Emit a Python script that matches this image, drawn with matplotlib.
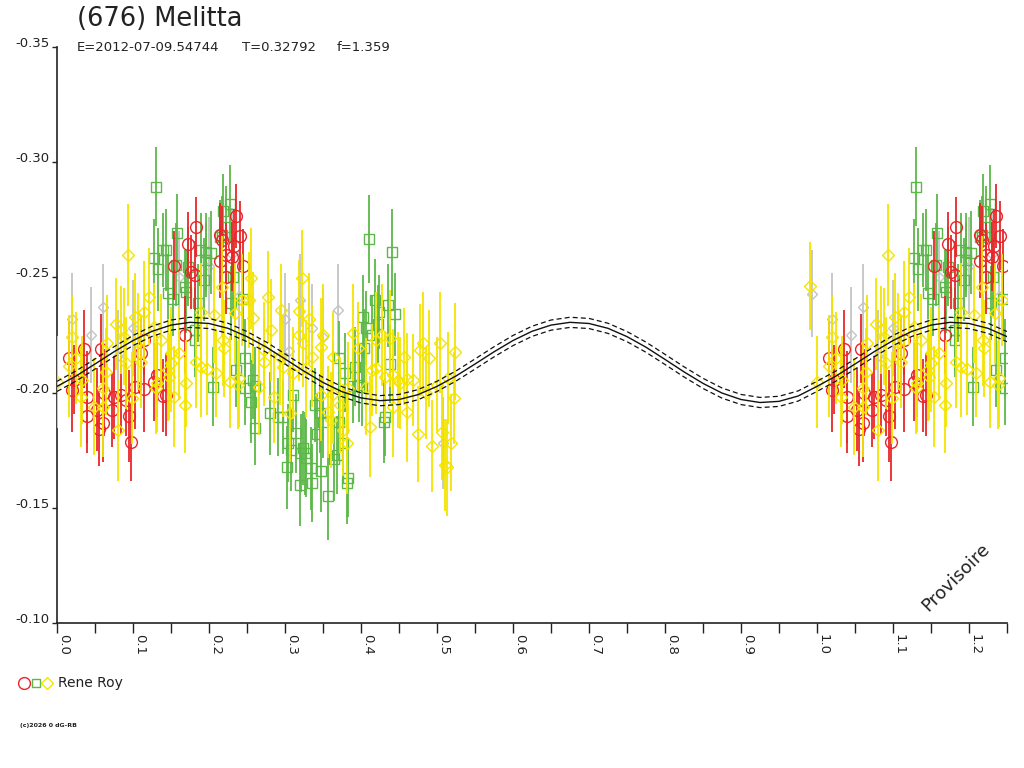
import numpy as np
import matplotlib as mpl
import matplotlib.pyplot as plt

mpl.use("agg")

# ---- data (phase, magnitude, error) ----
red_phase = [0.016, 0.020, 0.022, 0.036, 0.040, 0.040, 0.053, 0.055, 0.058, 0.060,
             0.062, 0.073, 0.075, 0.084, 0.091, 0.095, 0.098, 0.102, 0.110, 0.114,
             0.115, 0.128, 0.132, 0.140, 0.143, 0.154, 0.168, 0.173, 0.176, 0.181,
             0.183, 0.214, 0.214, 0.217, 0.223, 0.223, 0.230, 0.233, 0.236, 0.241,
             0.245]
red_mag = [-0.2150, -0.2010, -0.2055, -0.2190, -0.1980, -0.1900, -0.1925, -0.1840, -0.2190, -0.1870,
           -0.2000, -0.1925, -0.1980, -0.1990, -0.1970, -0.1900, -0.1787, -0.2024, -0.2170, -0.2017,
           -0.2228, -0.2047, -0.2076, -0.1987, -0.1990, -0.2550, -0.2250, -0.2645, -0.2525, -0.2510,
           -0.2717, -0.2684, -0.2570, -0.2662, -0.2597, -0.2503, -0.2590, -0.2636, -0.2767, -0.2680,
           -0.2550]
red_err = [0.016, 0.018, 0.015, 0.017, 0.020, 0.016, 0.018, 0.016, 0.015, 0.017,
           0.019, 0.016, 0.018, 0.017, 0.016, 0.020, 0.017, 0.018, 0.016, 0.019,
           0.015, 0.017, 0.018, 0.016, 0.018, 0.015, 0.017, 0.014, 0.016, 0.015,
           0.013, 0.014, 0.016, 0.015, 0.014, 0.016, 0.015, 0.016, 0.014, 0.015,
           0.016]

green_phase = [0.127, 0.130, 0.133, 0.139, 0.143, 0.146, 0.152, 0.157, 0.158, 0.168,
               0.170, 0.172, 0.181, 0.181, 0.185, 0.190, 0.194, 0.196, 0.196, 0.202,
               0.205, 0.215, 0.217, 0.218, 0.223, 0.227, 0.229, 0.231, 0.236, 0.245,
               0.247, 0.247, 0.255, 0.258, 0.260, 0.261, 0.280, 0.291, 0.297, 0.303,
               0.304, 0.308, 0.310, 0.315, 0.320, 0.321, 0.324, 0.326, 0.328, 0.334,
               0.335, 0.340, 0.342, 0.346, 0.348, 0.350, 0.357, 0.365, 0.368, 0.371,
               0.371, 0.376, 0.379, 0.381, 0.383, 0.390, 0.392, 0.398, 0.401, 0.403,
               0.404, 0.407, 0.411, 0.414, 0.418, 0.423, 0.424, 0.430, 0.431, 0.436,
               0.438, 0.441, 0.445]
green_mag = [-0.2583, -0.2894, -0.2535, -0.2619, -0.2619, -0.2432, -0.2405, -0.2554, -0.2694, -0.2460,
             -0.2438, -0.2547, -0.2272, -0.2228, -0.2389, -0.2619, -0.2489, -0.2609, -0.2575, -0.2607,
             -0.2026, -0.2677, -0.2684, -0.2788, -0.2717, -0.2819, -0.2389, -0.2503, -0.2098, -0.2405,
             -0.2149, -0.2018, -0.1960, -0.2055, -0.1845, -0.2030, -0.1910, -0.1895, -0.1895, -0.1676,
             -0.1780, -0.1751, -0.1990, -0.1823, -0.1599, -0.1737, -0.1758, -0.1737, -0.1715, -0.1672,
             -0.1609, -0.1947, -0.1819, -0.1910, -0.1661, -0.1874, -0.1551, -0.1711, -0.1729, -0.2152,
             -0.1874, -0.1783, -0.2087, -0.1609, -0.1628, -0.2030, -0.2113, -0.2033, -0.2026, -0.2330,
             -0.2192, -0.2280, -0.2667, -0.2250, -0.2402, -0.2298, -0.2351, -0.1874, -0.1893, -0.2380,
             -0.2123, -0.2609, -0.2340]
green_err = [0.017, 0.017, 0.018, 0.016, 0.018, 0.017, 0.016, 0.018, 0.017, 0.016,
             0.018, 0.017, 0.018, 0.016, 0.017, 0.016, 0.018, 0.017, 0.016, 0.018,
             0.017, 0.016, 0.017, 0.016, 0.018, 0.017, 0.016, 0.017, 0.016, 0.018,
             0.017, 0.016, 0.018, 0.017, 0.016, 0.017, 0.018, 0.017, 0.016, 0.018,
             0.017, 0.018, 0.016, 0.017, 0.018, 0.017, 0.016, 0.018, 0.017, 0.018,
             0.017, 0.016, 0.018, 0.017, 0.018, 0.016, 0.019, 0.018, 0.017, 0.016,
             0.017, 0.018, 0.017, 0.018, 0.017, 0.016, 0.017, 0.016, 0.017, 0.018,
             0.017, 0.016, 0.019, 0.017, 0.018, 0.017, 0.016, 0.018, 0.017, 0.018,
             0.017, 0.019, 0.018]

yellow_phase = [0.000, 0.016, 0.020, 0.025, 0.031, 0.033, 0.049, 0.060, 0.060, 0.064,
                0.066, 0.077, 0.080, 0.084, 0.088, 0.091, 0.094, 0.099, 0.102, 0.106,
                0.110, 0.115, 0.121, 0.128, 0.130, 0.132, 0.137, 0.146, 0.148, 0.150,
                0.150, 0.154, 0.161, 0.168, 0.170, 0.183, 0.190, 0.190, 0.197, 0.207,
                0.209, 0.217, 0.218, 0.220, 0.227, 0.234, 0.238, 0.240, 0.244, 0.253,
                0.255, 0.258, 0.266, 0.273, 0.273, 0.277, 0.282, 0.286, 0.293, 0.295,
                0.297, 0.306, 0.310, 0.319, 0.319, 0.322, 0.324, 0.328, 0.332, 0.336,
                0.348, 0.348, 0.350, 0.357, 0.361, 0.363, 0.363, 0.372, 0.376, 0.381,
                0.383, 0.390, 0.396, 0.407, 0.412, 0.414, 0.420, 0.420, 0.427, 0.431,
                0.438, 0.442, 0.442, 0.449, 0.451, 0.456, 0.460, 0.460, 0.469, 0.475,
                0.478, 0.481, 0.486, 0.489, 0.493, 0.500, 0.504, 0.506, 0.511, 0.513,
                0.515, 0.519, 0.522, 0.524, 0.991]
yellow_mag = [-0.2047, -0.2115, -0.2243, -0.2149, -0.1982, -0.2055, -0.1939, -0.2019, -0.1939, -0.2091,
              -0.2214, -0.2296, -0.1838, -0.2272, -0.2243, -0.2127, -0.2597, -0.1976, -0.2329, -0.2221,
              -0.2134, -0.2351, -0.2416, -0.2286, -0.2019, -0.2041, -0.2228, -0.2098, -0.2069, -0.2127,
              -0.2170, -0.1982, -0.2170, -0.1946, -0.2040, -0.2134, -0.2351, -0.2112, -0.2101, -0.2337,
              -0.2084, -0.2460, -0.2228, -0.2192, -0.2047, -0.2344, -0.2033, -0.2062, -0.2402, -0.2402,
              -0.2496, -0.2322, -0.2026, -0.2134, -0.2185, -0.2416, -0.2272, -0.1982, -0.2156, -0.2358,
              -0.2113, -0.1910, -0.2084, -0.2355, -0.2250, -0.2496, -0.2214, -0.2106, -0.2318, -0.2156,
              -0.2199, -0.1990, -0.2250, -0.1917, -0.1881, -0.2153, -0.1996, -0.1946, -0.1838, -0.1780,
              -0.2019, -0.2260, -0.2192, -0.2026, -0.1852, -0.2098, -0.2228, -0.2106, -0.2250, -0.2069,
              -0.2236, -0.2076, -0.1939, -0.2055, -0.2040, -0.2156, -0.2058, -0.1917, -0.2055, -0.1820,
              -0.2185, -0.2217, -0.1997, -0.2149, -0.1768, -0.2033, -0.2217, -0.1830, -0.1686, -0.1676,
              -0.2062, -0.1783, -0.1975, -0.2178, -0.2463]
yellow_err = [0.020, 0.022, 0.018, 0.020, 0.022, 0.019, 0.021, 0.020, 0.022, 0.019,
              0.021, 0.020, 0.022, 0.019, 0.021, 0.020, 0.022, 0.020, 0.019, 0.021,
              0.020, 0.022, 0.021, 0.019, 0.020, 0.021, 0.020, 0.022, 0.019, 0.021,
              0.020, 0.022, 0.020, 0.021, 0.019, 0.020, 0.021, 0.022, 0.020, 0.021,
              0.019, 0.022, 0.020, 0.021, 0.020, 0.022, 0.019, 0.021, 0.020, 0.021,
              0.022, 0.020, 0.021, 0.019, 0.021, 0.020, 0.022, 0.020, 0.021, 0.020,
              0.022, 0.021, 0.020, 0.022, 0.020, 0.021, 0.019, 0.021, 0.020, 0.022,
              0.021, 0.020, 0.022, 0.020, 0.021, 0.020, 0.022, 0.021, 0.020, 0.022,
              0.020, 0.021, 0.020, 0.021, 0.022, 0.020, 0.021, 0.020, 0.022, 0.020,
              0.021, 0.020, 0.022, 0.021, 0.020, 0.021, 0.020, 0.022, 0.020, 0.021,
              0.020, 0.022, 0.020, 0.021, 0.020, 0.021, 0.022, 0.021, 0.020, 0.021,
              0.020, 0.021, 0.020, 0.021, 0.019]

gray_phase = [0.020, 0.045, 0.060, 0.080, 0.100, 0.160, 0.200, 0.230, 0.240,
              0.300, 0.305, 0.320, 0.335, 0.350, 0.370, 0.508, 0.993]
gray_mag = [-0.2320, -0.2250, -0.2370, -0.2160, -0.2280, -0.2500, -0.2550, -0.2600, -0.2420,
            -0.2320, -0.2180, -0.2400, -0.2280, -0.2240, -0.2360, -0.1780, -0.2430]
gray_err = [0.020, 0.021, 0.019, 0.020, 0.021, 0.020, 0.021, 0.020, 0.019,
            0.020, 0.021, 0.020, 0.019, 0.021, 0.020, 0.020, 0.019]

# Fourier fit, sampled every 0.025 in phase (0 .. 1)
curve_mag = [-0.2027, -0.2072, -0.2124, -0.2177, -0.2226, -0.2266, -0.2293, -0.2305, -0.2300, -0.2279,
             -0.2243, -0.2198, -0.2146, -0.2093, -0.2044, -0.2004, -0.1977, -0.1965, -0.1970, -0.1991,
             -0.2027, -0.2072, -0.2124, -0.2177, -0.2226, -0.2266, -0.2293, -0.2305, -0.2300, -0.2279,
             -0.2243, -0.2197, -0.2144, -0.2090, -0.2040, -0.1998, -0.1970, -0.1957, -0.1962, -0.1985,
             -0.2027]
curve_sigma = 0.0022

yticks = [-0.35, -0.30, -0.25, -0.20, -0.15, -0.10]
xticks = [0.0, 0.1, 0.2, 0.3, 0.4, 0.5, 0.6, 0.7, 0.8, 0.9, 1.0, 1.1, 1.2]

title = "(676) Melitta"
sub_e = "E=2012-07-09.54744"
sub_t = "T=0.32792"
sub_f = "f=1.359"
observer = "Rene Roy"

RED = "#e8262a"
GREEN = "#5cb848"
YELLOW = "#f5e400"
GRAY = "#c4c4c4"
INK = "#222222"


def wrap(phase, mag, err):
    # points with phase < 0.25 are repeated one cycle later
    p = np.asarray(phase)
    m = np.asarray(mag)
    e = np.asarray(err)
    sel = p < 0.25
    return (np.concatenate([p, p[sel] + 1]),
            np.concatenate([m, m[sel]]),
            np.concatenate([e, e[sel]]))


def fx(px):
    return px / 1024


def fy(py):
    return 1 - py / 768


fig = plt.figure(figsize=(10.24, 7.68), dpi=100)
ax = fig.add_axes([fx(57), fy(623), 950 / 1024, 576 / 768])

series = [
    (gray_phase, gray_mag, gray_err, GRAY, "D", 5.5),
    (green_phase, green_mag, green_err, GREEN, "s", 6.5),
    (red_phase, red_mag, red_err, RED, "o", 8.5),
    (yellow_phase, yellow_mag, yellow_err, YELLOW, "D", 6.5),
]
for i, (ph, mg, er, col, mk, ms) in enumerate(series):
    x, y, e = wrap(ph, mg, er)
    ax.errorbar(x, y, yerr=e, fmt=mk, ms=ms, mfc="none", mec=col, mew=1.0,
                ecolor=col, elinewidth=1.3, capsize=0, zorder=2 + i)

# fit curve and its envelope
cphase = np.linspace(0, 1, len(curve_mag))
cmag = np.asarray(curve_mag)
cx = np.concatenate([cphase, cphase[1:11] + 1])
cy = np.concatenate([cmag, cmag[1:11]])
ax.plot(cx, cy, color="#111111", lw=1.0, zorder=10)
for s in (-curve_sigma, curve_sigma):
    ax.plot(cx, cy + s, color="#111111", lw=0.9, dashes=(4, 2.5), zorder=10)

ax.set_xlim(0, 1.25)
ax.set_ylim(-0.10, -0.35)
for side in ("top", "right"):
    ax.spines[side].set_visible(False)
for side in ("left", "bottom"):
    ax.spines[side].set_linewidth(1.2)
    ax.spines[side].set_color(INK)

ax.set_yticks(yticks)
ax.set_yticklabels([f"{v:.2f}" for v in yticks], fontsize=9.5, color=INK)
for lbl in ax.get_yticklabels():
    lbl.set_verticalalignment("baseline")
ax.tick_params(axis="y", direction="out", length=3.6, width=1.0, pad=2, colors=INK)

ax.set_xticks(xticks)
ax.set_xticks([v + 0.05 for v in xticks], minor=True)
ax.set_xticklabels([f"{v:.1f}" for v in xticks], rotation=270, fontsize=9.5,
                   ha="left", va="top", color=INK)
ax.tick_params(axis="x", which="both", direction="out", length=7.2, width=1.0,
               pad=1, colors=INK)

# header
fig.text(fx(77), fy(19), title, fontsize=18.5, ha="left", va="center", color=INK)
fig.text(fx(77), fy(51), sub_e, fontsize=9.5, ha="left", va="baseline", color=INK)
fig.text(fx(242), fy(51), sub_t, fontsize=9.5, ha="left", va="baseline", color=INK)
fig.text(fx(337), fy(51), sub_f, fontsize=9.5, ha="left", va="baseline", color=INK)

fig.text(fx(956), fy(577), "Provisoire", fontsize=13, rotation=45,
         ha="center", va="center", color=INK)

# legend row
ly = fy(683)
for xp, col, mk, ms in ((24, RED, "o", 8.5), (36, GREEN, "s", 5.5), (47, YELLOW, "D", 6.5)):
    fig.add_artist(mpl.lines.Line2D([fx(xp)], [ly], marker=mk, ms=ms, mfc="none",
                                    mec=col, mew=1.0, ls="none"))
fig.text(fx(58), ly, observer, fontsize=10, ha="left", va="center", color=INK)

fig.text(fx(20), fy(725), "(c)2026 0 dG-RB", fontsize=4.5, fontweight="bold",
         ha="left", va="center", color=INK)

fig.savefig("out.png", dpi=100)
